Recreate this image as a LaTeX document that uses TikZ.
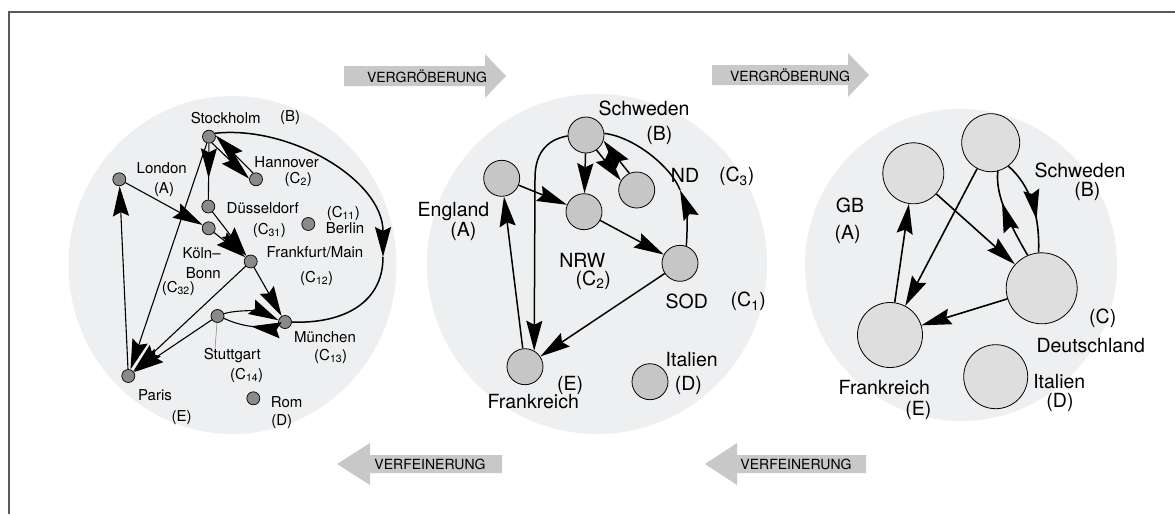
\documentclass[tikz,border=0pt]{standalone}
\usepackage{fontspec}
\setmainfont{TeX Gyre Heros}
\usetikzlibrary{arrows.meta,decorations.markings}
\definecolor{bgdisc}{RGB}{238,239,240}
\definecolor{bannergray}{RGB}{200,200,200}
\definecolor{dotgray}{RGB}{138,138,138}
\definecolor{nodegrayB}{RGB}{198,198,198}
\definecolor{nodegrayC}{RGB}{222,222,222}
\definecolor{framegray}{RGB}{90,90,90}
\tikzset{
  tohead/.style={-{Stealth[length=30pt,width=16pt,inset=4pt]}},
  headat/.style={postaction={decorate},decoration={markings,mark=at position #1 with
      {\arrow{Stealth[length=30pt,width=16pt,inset=4pt]}}}},
  dotA/.style={circle,draw=black,line width=0.7pt,fill=dotgray,minimum size=13pt,inner sep=0pt},
  discB/.style={circle,draw=black,line width=0.8pt,fill=nodegrayB,minimum size=36pt,inner sep=0pt},
  discC/.style={circle,draw=black,line width=0.8pt,fill=nodegrayC,inner sep=0pt},
  labA/.style={font=\fontsize{15}{17}\selectfont,inner sep=0pt},
  labB/.style={font=\fontsize{19.5}{22}\selectfont,inner sep=0pt},
  bantext/.style={font=\fontsize{14}{16}\selectfont,inner sep=0pt},
  edgeA/.style={line width=1.1pt},
  edgeB/.style={line width=1.5pt},
  edgeC/.style={line width=1.6pt}
}
\begin{document}
\begin{tikzpicture}[x=1pt,y=-1pt]
\useasboundingbox (0,0) rectangle (1175,514);

% frame
\draw[framegray,line width=1.2pt] (9,514) -- (9,12) -- (1175,12);

% background discs
\fill[bgdisc] (232.5,265) ellipse [x radius=164,y radius=169];
\fill[bgdisc] (597,264) circle [radius=170];
\fill[bgdisc] (961,265) circle [radius=156];

% banner arrows
\fill[bannergray] (344,66) -- (485,66) -- (485,54) -- (506,76) -- (485,98) -- (485,86) -- (344,86) -- cycle;
\node[bantext] (bv1) at (427,76) {VERGRÖBERUNG};
\fill[bannergray] (712,65) -- (848,65) -- (848,53) -- (869,75) -- (848,97) -- (848,85) -- (712,85) -- cycle;
\node[bantext] (bv2) at (790,75) {VERGRÖBERUNG};
\fill[bannergray] (502,455) -- (370,455) -- (370,443) -- (337,464) -- (370,485) -- (370,473) -- (502,473) -- cycle;
\node[bantext] (bf1) at (430,464) {VERFEINERUNG};
\fill[bannergray] (866,455) -- (737,455) -- (737,443) -- (705,464) -- (737,485) -- (737,473) -- (866,473) -- cycle;
\node[bantext] (bf2) at (796,464) {VERFEINERUNG};

% ---------- cities ----------
\node[dotA] (sto) at (209,136.7) {};
\node[dotA] (lon) at (119.3,179.3) {};
\node[dotA] (han) at (256,179.3) {};
\node[dotA] (due) at (208.3,206.5) {};
\node[dotA] (koe) at (208.7,228.3) {};
\node[dotA] (ber) at (308.3,224) {};
\node[dotA] (fra) at (250.7,261.5) {};
\node[dotA] (mue) at (285,322) {};
\node[dotA] (stu) at (217.5,316) {};
\node[dotA] (par) at (128.3,376) {};
\node[dotA] (rom) at (253.3,398.3) {};
\coordinate (stuptr) at (215,349);
\coordinate (kb) at (383,257);

\draw[edgeA,tohead] (sto) -- (par);
\draw[edgeA,headat=0.62] (sto) -- (due);
\draw[edgeA,tohead] (han.115) -- (sto.10);
\draw[edgeA,tohead] (sto.-65) -- (han.175);
\draw[edgeA,tohead] (lon) -- (koe);
\draw[edgeA,tohead] (due) -- (fra);
\draw[edgeA,tohead] (koe) -- (fra);
\draw[edgeA,tohead] (fra) -- (par);
\draw[edgeA,tohead] (fra) -- (mue);
\draw[edgeA,tohead] (stu) -- (par);
\draw[edgeA,tohead] (par) -- (lon);
\draw[edgeA,tohead] (stu.20) .. controls (240,309) and (262,312) .. (mue.165);
\draw[edgeA,headat=0.5] (mue.200) .. controls (262,330) and (240,326) .. (stu.-20);
\draw[edgeB,tohead] (sto.30) .. controls (290,125) and (383,180) .. (kb);
\draw[edgeB] (kb) .. controls (383,305) and (340,324) .. (mue.east);
\draw[gray,line width=0.5pt] (stu) -- (stuptr);

\node[labA] (tsto) at (225.7,118) {Stockholm};
\node[labA] (tstob) at (290,118) {(B)};
\node[labA] (tlon) at (161.7,168) {London};
\node[labA] (tlona) at (164,190) {(A)};
\node[labA] (than) at (286.7,161.7) {Hannover};
\node[labA] (thanc) at (298.3,179.3) {(C\textsubscript{2})};
\node[labA] (tdue) at (262.7,208.3) {Düsseldorf};
\node[labA] (tduec) at (269.3,230) {(C\textsubscript{31})};
\node[labA] (tberc) at (343.3,213.3) {(C\textsubscript{11})};
\node[labA] (tber) at (345,228.3) {Berlin};
\node[labA] (tkoe) at (201.7,253.3) {Köln–};
\node[labA] (tkoeb) at (203.3,272.7) {Bonn};
\node[labA] (tkoec) at (178.3,288.3) {(C\textsubscript{32})};
\node[labA] (tfra) at (315,251.7) {Frankfurt/Main};
\node[labA] (tfrac) at (316.7,278.3) {(C\textsubscript{12})};
\node[labA] (tmue) at (325,336.7) {München};
\node[labA] (tmuec) at (330.7,356) {(C\textsubscript{13})};
\node[labA] (tstu) at (232.3,356) {Stuttgart};
\node[labA] (tstuc) at (246.7,375) {(C\textsubscript{14})};
\node[labA] (tpar) at (155,395) {Paris};
\node[labA] (tpare) at (181.7,417.3) {(E)};
\node[labA] (trom) at (286.7,401.7) {Rom};
\node[labA] (tromd) at (281.7,421.7) {(D)};

% ---------- regions ----------
\node[discB] (swe) at (586,135) {};
\node[discB] (eng) at (501.7,178.3) {};
\node[discB] (nrw) at (584,211.7) {};
\node[discB] (nd) at (636.7,190) {};
\node[discB] (sod) at (680,263.3) {};
\node[discB] (fkr) at (525,366.7) {};
\node[discB] (ita) at (650,381.7) {};
\coordinate (sodtip) at (680,190);

\draw[edgeB,tohead] (swe) -- (nrw);
\draw[edgeB,tohead] (eng) -- (nrw);
\draw[edgeB,tohead] (nrw) -- (sod);
\draw[edgeB,tohead] (sod) -- (fkr);
\draw[edgeB,tohead] (fkr) -- (eng);
\draw[edgeB,tohead] (swe.183) .. controls (550,139) and (535,150) .. (535,178) -- (fkr.60);
\draw[edgeB,tohead] (nd.114) -- (swe.342);
\draw[edgeB,tohead] (swe.305) -- (nd.149);
\draw[edgeB,tohead] (sod.70) .. controls (688,225) and (686,205) .. (sodtip);
\draw[edgeB] (sodtip) .. controls (672,168) and (635,137) .. (swe.5);

\node[labB] (tswe) at (644,108.3) {Schweden};
\node[labB] (tsweb) at (659.3,135) {(B)};
\node[labB] (teng) at (453.5,211.7) {England};
\node[labB] (tenga) at (463.3,231.7) {(A)};
\node[labB] (tnrw) at (582.3,260) {NRW};
\node[labB] (tnrwc) at (593.3,280) {(C\textsubscript{2})};
\node[labB] (tnd) at (685,175) {ND};
\node[labB] (tndc) at (736.7,176.7) {(C\textsubscript{3})};
\node[labB] (tsod) at (686.7,301.7) {SOD};
\node[labB] (tsodc) at (748.3,301.7) {(C\textsubscript{1})};
\node[labB] (tfkre) at (570,385) {(E)};
\node[labB] (tfkr) at (533.3,401.7) {Frankreich};
\node[labB] (tita) at (691.7,360) {Italien};
\node[labB] (titad) at (688.3,385) {(D)};

% ---------- countries ----------
\node[discC,minimum size=61pt] (gb) at (913.3,173.3) {};
\node[discC,minimum size=58pt] (swe3) at (990.7,142.7) {};
\node[discC,minimum size=71pt] (de) at (1041.7,288.3) {};
\node[discC,minimum size=65pt] (fr3) at (890,335) {};
\node[discC,minimum size=64pt] (it3) at (995.7,376.7) {};

\draw[edgeC,tohead] (fr3) -- (gb);
\draw[edgeC,tohead] (gb) -- (de);
\draw[edgeC,tohead] (swe3) -- (fr3);
\draw[edgeC,tohead] (de) -- (fr3);
\draw[edgeC,headat=0.65] (de.113) .. controls (1010,225) and (995,195) .. (swe3.284);
\draw[edgeC,headat=0.65] (swe3.307) .. controls (1030,185) and (1040,215) .. (de.95);

\node[labB] (tgb) at (850,205) {GB};
\node[labB] (tgba) at (847.7,234) {(A)};
\node[labB] (tswe3) at (1080,170.7) {Schweden};
\node[labB] (tswe3b) at (1087.3,191.7) {(B)};
\node[labB] (tdec) at (1102.7,318.3) {(C)};
\node[labB] (tde) at (1090.7,345.7) {Deutschland};
\node[labB] (tfr3) at (884.3,387.3) {Frankreich};
\node[labB] (tfr3e) at (918.3,410) {(E)};
\node[labB] (tit3) at (1059.3,381.7) {Italien};
\node[labB] (tit3d) at (1060,402.7) {(D)};
\end{tikzpicture}
\end{document}
